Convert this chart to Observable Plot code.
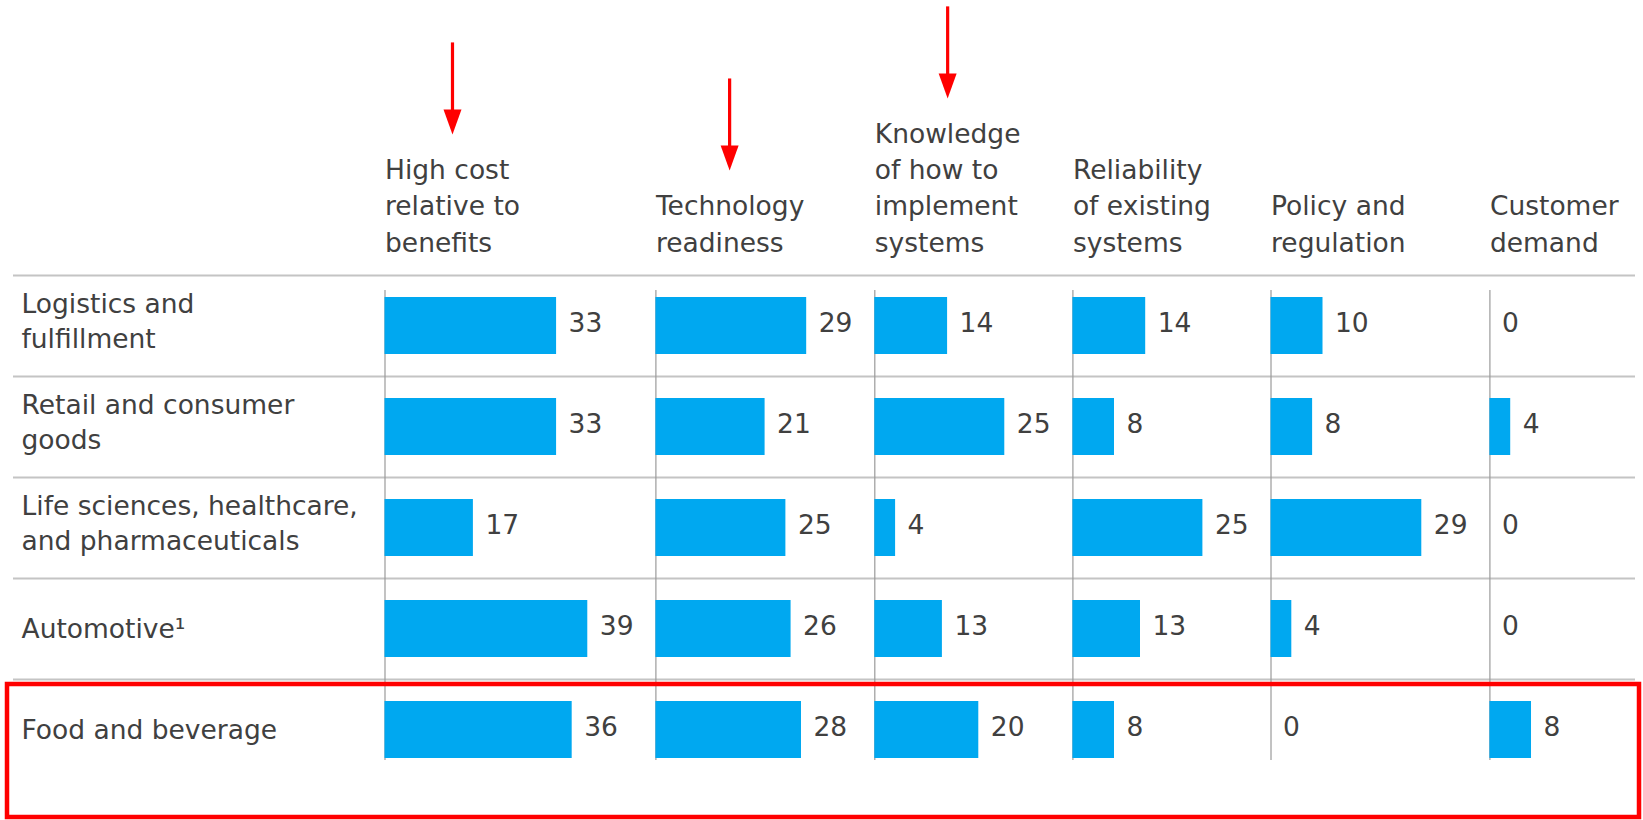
<!DOCTYPE html>
<html>
<head>
<meta charset="utf-8">
<script src="https://cdn.jsdelivr.net/npm/d3@7"></script>
<script src="https://cdn.jsdelivr.net/npm/@observablehq/plot@0.6"></script>
<style>
  html, body { margin: 0; padding: 0; background: #fff; overflow: hidden; }
  svg { display: block; }
</style>
</head>
<body>
<div id="chart"></div>
<script>
// ---- Data ----
const industries = [
  "Logistics and\nfulfillment",
  "Retail and consumer\ngoods",
  "Life sciences, healthcare,\nand pharmaceuticals",
  "Automotive\u00b9",
  "Food and beverage"
];
const barriers = [
  "High cost\nrelative to\nbenefits",
  "Technology\nreadiness",
  "Knowledge\nof how to\nimplement\nsystems",
  "Reliability\nof existing\nsystems",
  "Policy and\nregulation",
  "Customer\ndemand"
];
const highCost       = [33, 33, 17, 39, 36];
const techReadiness  = [29, 21, 25, 26, 28];
const knowHow        = [14, 25, 4, 13, 20];
const reliability    = [14, 8, 25, 13, 8];
const policy         = [10, 8, 29, 4, 0];
const customerDemand = [0, 4, 0, 0, 8];
const highlightedIndustry = "Food and beverage";
const annotatedBarriers = [barriers[0], barriers[1], barriers[2]];

// ---- Table built from the arrays ----
const series = [highCost, techReadiness, knowHow, reliability, policy, customerDemand];
const rows = barriers.flatMap((b, j) =>
  industries.map((ind, i) => ({barrier: b, industry: ind, value: series[j][i]}))
);

// Each column is as wide as its largest value plus a fixed gap (in value units)
const gap = 13.1;
const offset = new Map();
let acc = 0;
barriers.forEach((b, j) => { offset.set(b, acc); acc += d3.max(series[j]) + gap; });

// ---- Layout ----
const W = 1643, H = 820, mTop = 274, mBottom = 40, mLeft = 13, mRight = 8;
const band = (H - mTop - mBottom) / industries.length;
const ink = "#404040";
const fs = 26.5;
const multiLine = d => d.includes("\n");

const chart = Plot.plot({
  width: W, height: H,
  marginTop: mTop, marginBottom: mBottom, marginLeft: mLeft, marginRight: mRight,
  style: {fontFamily: "'DejaVu Sans', sans-serif", fontSize: "26px", background: "#fff", color: ink},
  x: {domain: [0, 240.5], range: [384.5, W - mRight], axis: null},
  y: {domain: industries, padding: 0, axis: null},
  marks: [
    Plot.ruleY(industries, {y: d => d, dy: -band / 2, stroke: "#c4c4c4", strokeWidth: 2}),
    Plot.ruleX(barriers, {x: b => offset.get(b), insetTop: 16, insetBottom: 20, stroke: "#9a9a9a", strokeWidth: 1.2}),
    Plot.barX(rows, {
      y: "industry",
      x1: d => offset.get(d.barrier),
      x2: d => offset.get(d.barrier) + d.value,
      fill: "#00a8f0", insetTop: 22, insetBottom: 22
    }),
    Plot.text(rows, {
      y: "industry", x: d => offset.get(d.barrier) + d.value,
      text: d => String(d.value), textAnchor: "start", dx: 12, dy: -2,
      fill: ink, fontSize: fs
    }),
    // row labels: two-line labels sit a little higher than single-line ones
    Plot.text(industries.filter(multiLine), {
      y: d => d, text: d => d, frameAnchor: "left", textAnchor: "start",
      dx: 8, dy: -7, lineHeight: 1.33, fill: ink, fontSize: fs
    }),
    Plot.text(industries.filter(d => !multiLine(d)), {
      y: d => d, text: d => d, frameAnchor: "left", textAnchor: "start",
      dx: 8, dy: 1, fill: ink, fontSize: fs
    }),
    Plot.text(barriers, {
      x: b => offset.get(b), text: d => d, frameAnchor: "top", lineAnchor: "bottom",
      textAnchor: "start", dy: -23, lineHeight: 1.36, fill: ink, fontSize: fs,
      ariaLabel: () => "header"
    }),
    Plot.cell([highlightedIndustry], {
      y: d => d, fill: "none", stroke: "#ff0000", strokeWidth: 4.5,
      insetLeft: -6, insetRight: -4, insetTop: 5, insetBottom: -37
    })
  ]
});

document.getElementById("chart").append(chart);

// ---- Red arrow annotations above the annotated column headers ----
const svg = d3.select(chart);
const svgRect = chart.getBoundingClientRect();
let headerTexts = svg.selectAll('text[aria-label="header"]').nodes();
if (headerTexts.length !== barriers.length) {
  const all = svg.selectAll("text").nodes();
  headerTexts = barriers.map(b => all.find(t => t.textContent.startsWith(b.split("\n")[0]) && t.querySelectorAll("tspan").length === b.split("\n").length));
}
const arrowLen = 92, headLen = 25, headHalf = 9, arrowGap = 20;
const ann = svg.append("g").attr("aria-label", "annotations");
annotatedBarriers.forEach(b => {
  const node = headerTexts[barriers.indexOf(b)];
  if (!node) return;
  const r = node.getBoundingClientRect();
  const cx = r.left - svgRect.left + r.width / 2;
  const tip = r.top - svgRect.top - arrowGap;
  ann.append("line")
    .attr("x1", cx).attr("x2", cx)
    .attr("y1", tip - arrowLen).attr("y2", tip - headLen + 1)
    .attr("stroke", "#ff0000").attr("stroke-width", 3.2);
  ann.append("path")
    .attr("d", `M${cx - headHalf},${tip - headLen}L${cx + headHalf},${tip - headLen}L${cx},${tip}Z`)
    .attr("fill", "#ff0000");
});
</script>
</body>
</html>
